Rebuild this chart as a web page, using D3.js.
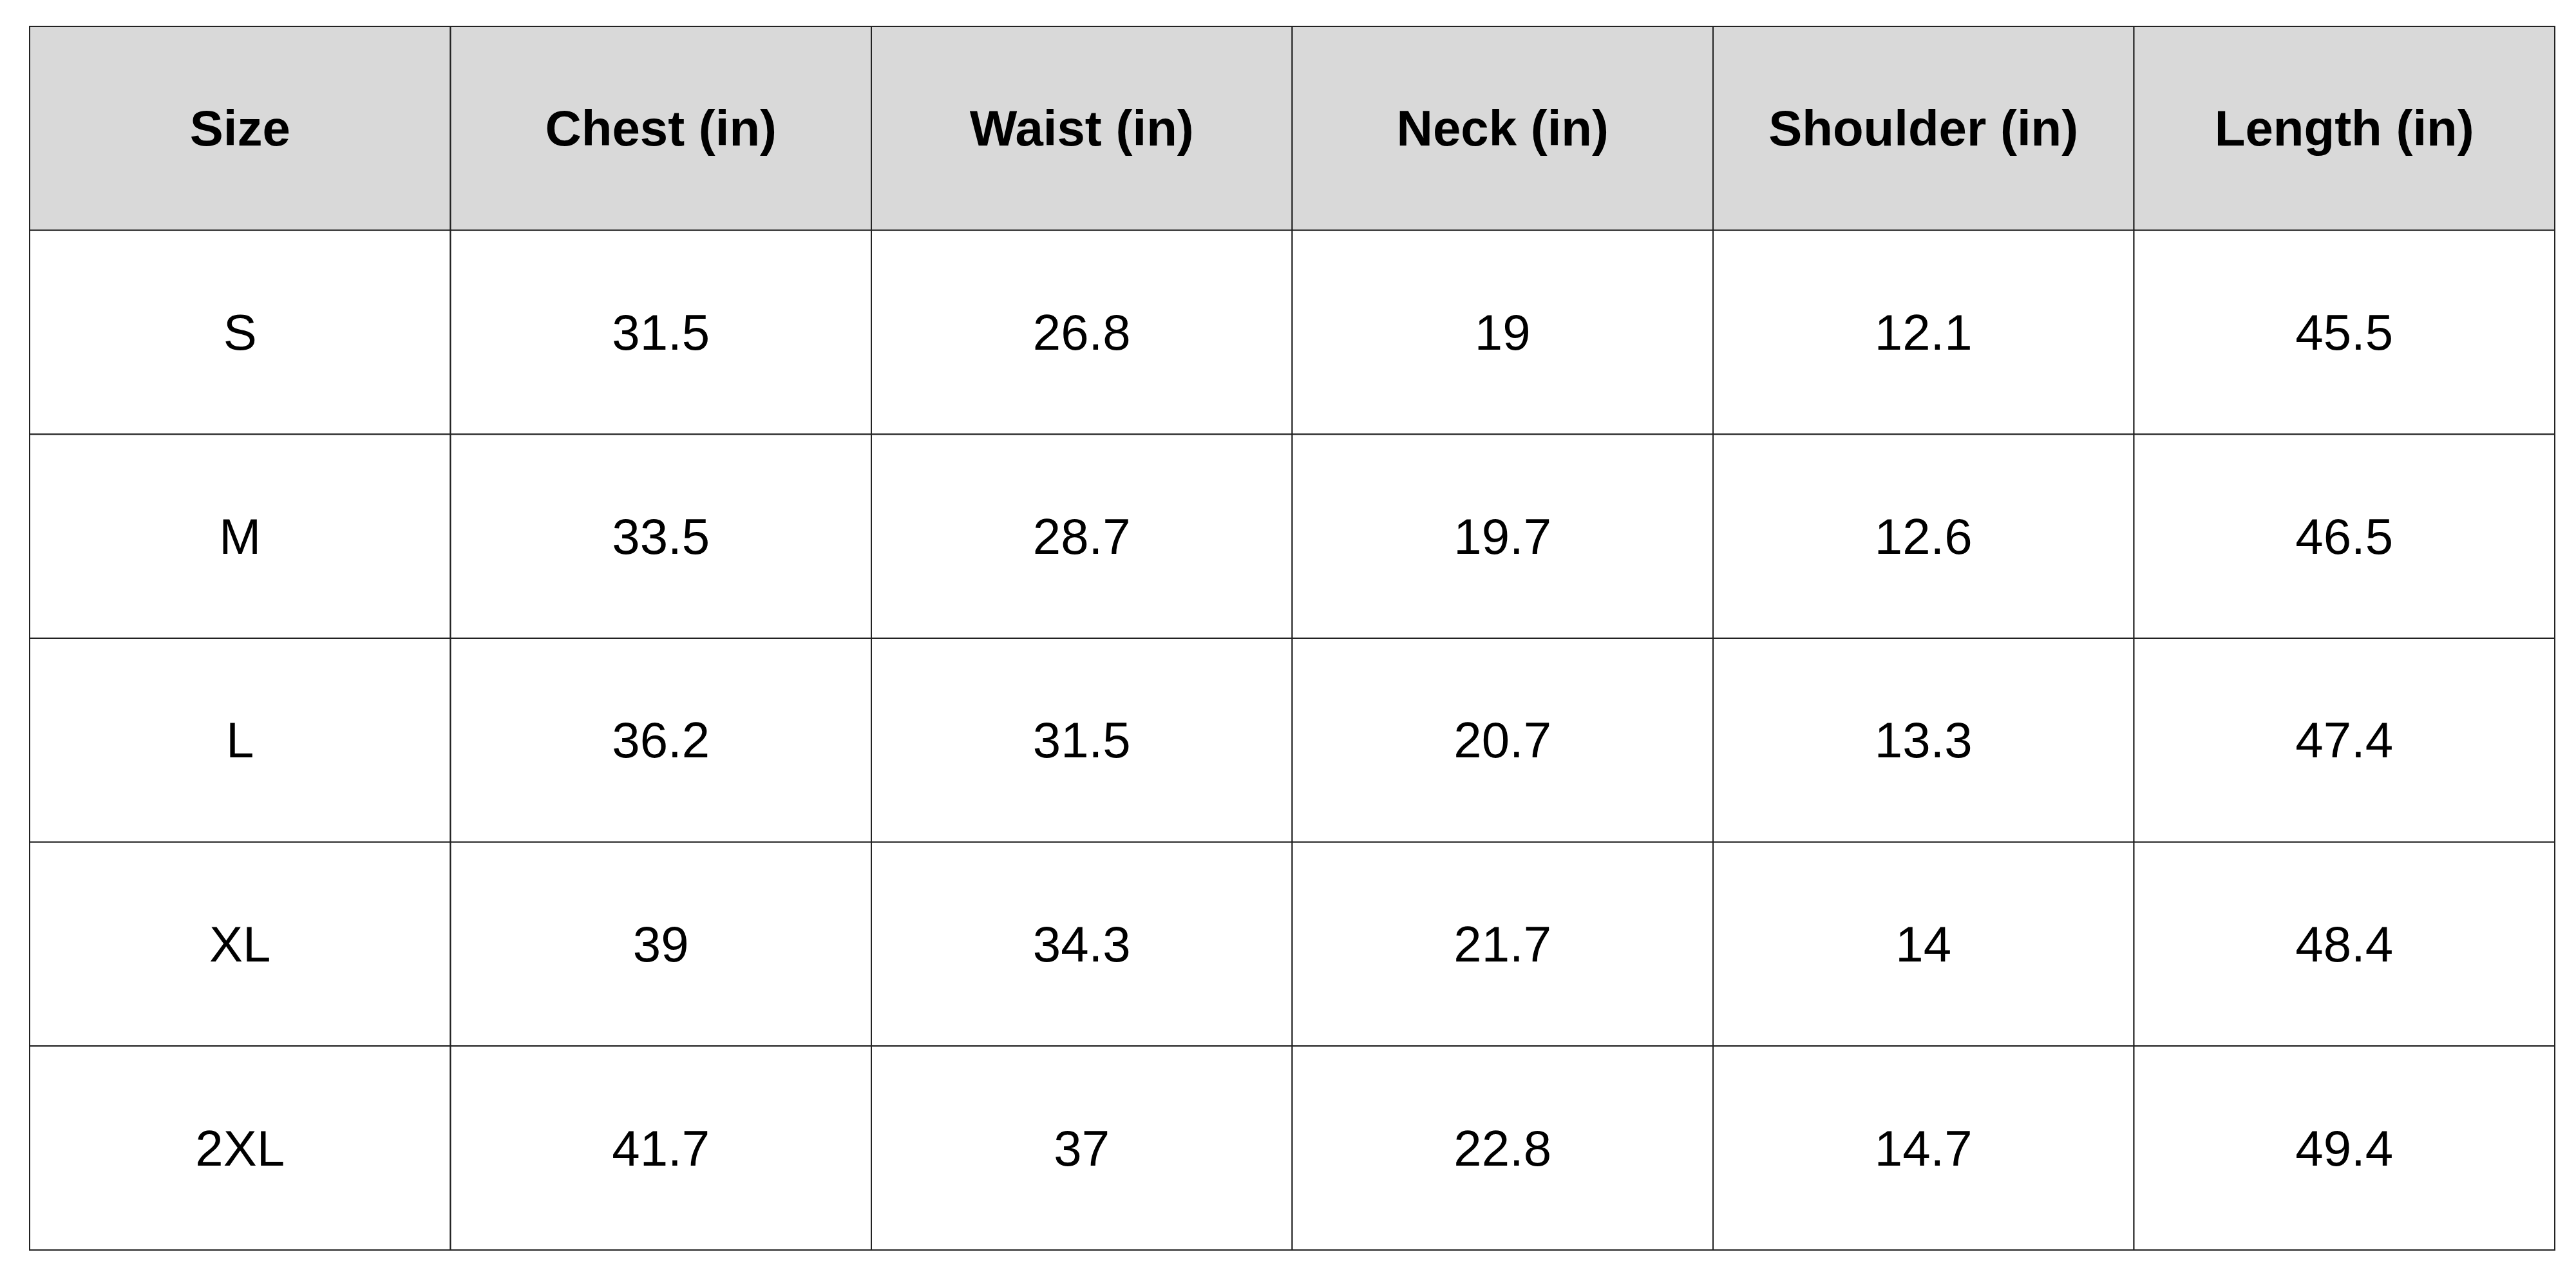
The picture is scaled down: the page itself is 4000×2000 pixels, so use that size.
<!DOCTYPE html>
<html>
<head>
<meta charset="utf-8">
<script src="https://cdn.jsdelivr.net/npm/d3@7"></script>
<style>body{margin:0;background:#fff;}</style>
</head>
<body>
<div id="chart"></div>
<script>
// Table data
const columns = ["Size", "Chest (in)", "Waist (in)", "Neck (in)", "Shoulder (in)", "Length (in)"];
const sizes = ["S", "M", "L", "XL", "2XL"];
const chest = [31.5, 33.5, 36.2, 39, 41.7];
const waist = [26.8, 28.7, 31.5, 34.3, 37];
const neck = [19, 19.7, 20.7, 21.7, 22.8];
const shoulder = [12.1, 12.6, 13.3, 14, 14.7];
const length = [45.5, 46.5, 47.4, 48.4, 49.4];

const rows = sizes.map((s, i) => [s, chest[i], waist[i], neck[i], shoulder[i], length[i]]);

let width = 4000, height = 2000;
let margin = {top: 41, bottom: 59, left: 46, right: 33};

const svg = d3.select('#chart')
    .append('svg')
    .attr('width', width)
    .attr('height', height);

const x = d3.scaleBand()
    .domain(d3.range(columns.length))
    .range([margin.left, width - margin.right]);

const y = d3.scaleBand()
    .domain(d3.range(rows.length + 1))
    .range([margin.top, height - margin.bottom]);

const allRows = [columns].concat(rows);

allRows.forEach((row, r) => {
    row.forEach((val, c) => {
        svg.append('rect')
            .attr('x', x(c))
            .attr('y', y(r))
            .attr('width', x.bandwidth())
            .attr('height', y.bandwidth())
            .attr('fill', r === 0 ? '#d9d9d9' : '#ffffff')
            .attr('stroke', '#222')
            .attr('stroke-width', 2);

        svg.append('text')
            .attr('x', x(c) + x.bandwidth() / 2)
            .attr('y', y(r) + y.bandwidth() / 2)
            .attr('text-anchor', 'middle')
            .attr('dominant-baseline', 'central')
            .style('font-family', '"Liberation Sans", Arial, sans-serif')
            .style('font-size', '78px')
            .style('font-weight', r === 0 ? 'bold' : 'normal')
            .attr('fill', '#000')
            .text(val);
    });
});
</script>
</body>
</html>
